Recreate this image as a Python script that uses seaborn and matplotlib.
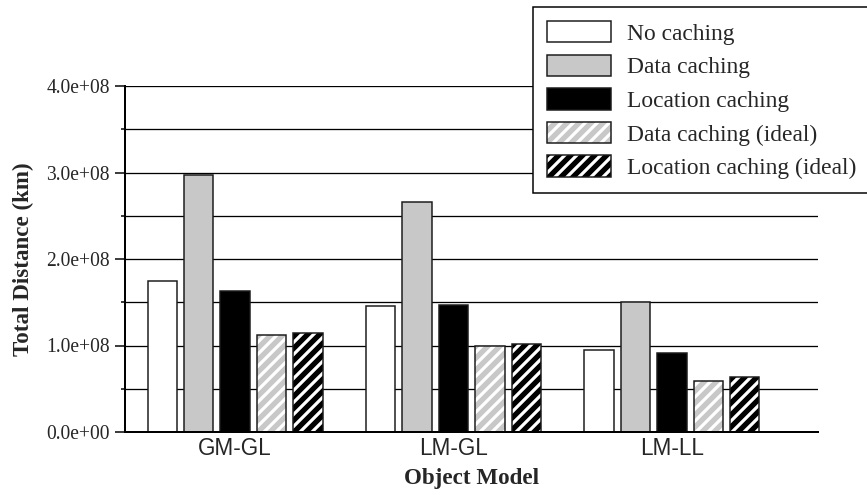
import numpy as np
import pandas as pd
import matplotlib
matplotlib.use('Agg')
import matplotlib.pyplot as plt
from matplotlib.patches import Patch
from matplotlib.ticker import MultipleLocator, FormatStrFormatter
import seaborn as sns

# Values
models = ['GM-GL', 'LM-GL', 'LM-LL']
schemes = ['No caching', 'Data caching', 'Location caching',
           'Data caching (ideal)', 'Location caching (ideal)']
no_caching = [1.74e8, 1.457e8, 0.952e8]
data_caching = [2.97e8, 2.66e8, 1.50e8]
location_caching = [1.635e8, 1.472e8, 0.917e8]
data_ideal = [1.118e8, 0.998e8, 0.59e8]
location_ideal = [1.148e8, 1.013e8, 0.64e8]

colors = ['white', '#c8c8c8', 'black', '#c8c8c8', 'black']
hatched = [False, False, False, True, True]

sns.set_theme(style='ticks')
plt.rcParams['font.family'] = ['Liberation Serif', 'DejaVu Serif']
plt.rcParams['hatch.linewidth'] = 3.2

# Long format for seaborn
series = [no_caching, data_caching, location_caching, data_ideal, location_ideal]
rows = []
for name, vals in zip(schemes, series):
    for m, v in zip(models, vals):
        rows.append({'model': m, 'scheme': name, 'distance': v})
df = pd.DataFrame(rows)

fig = plt.figure(figsize=(867 / 72, 495 / 72), dpi=72)
ax = fig.add_axes([125 / 867, 1 - 432 / 495, 693 / 867, 346 / 495])

sns.barplot(data=df, x='model', y='distance', hue='scheme',
            order=models, hue_order=schemes, palette=colors, saturation=1,
            width=0.833, gap=0.19, edgecolor='#1a1a1a', linewidth=1.5,
            errorbar=None, legend=False, ax=ax)

# White diagonal stripes on the "ideal" bars
for cont, h in zip(ax.containers, hatched):
    if h:
        for p in cont:
            p.set_hatch('//')
            p._hatch_color = (1, 1, 1, 1)

ax.set_xlim(-0.504, 2.669)
ax.set_ylim(0, 4.0e8)
ax.yaxis.set_major_locator(MultipleLocator(1.0e8))
ax.yaxis.set_minor_locator(MultipleLocator(0.5e8))
ax.yaxis.set_major_formatter(FormatStrFormatter('%.1e'))
ax.yaxis.grid(True, which='both', color='black', lw=1.3)
ax.set_axisbelow(True)

sns.despine(ax=ax)
for s in ['left', 'bottom']:
    ax.spines[s].set_linewidth(2)
    ax.spines[s].set_color('black')

ax.tick_params(axis='y', which='major', length=10, width=1.5, labelsize=19.5, pad=5, color='black')
ax.tick_params(axis='y', which='minor', length=4, width=1.5, color='black')
ax.tick_params(axis='x', length=0, labelsize=22.5, pad=5)
for lbl in ax.get_xticklabels():
    lbl.set_fontfamily('Liberation Sans')

ax.set_xlabel('Object Model', fontsize=23, fontweight='bold', labelpad=8)
ax.set_ylabel('Total Distance (km)', fontsize=23, fontweight='bold', labelpad=12)

# Legend
handles = []
for c, h in zip(colors, hatched):
    p = Patch(facecolor=c, edgecolor='#1a1a1a', linewidth=1.5, hatch='//' if h else None)
    if h:
        p._hatch_color = (1, 1, 1, 1)
    handles.append(p)
leg = fig.legend(handles, schemes, loc='upper left',
                 bbox_to_anchor=(533 / 867, 1 - 7 / 495), bbox_transform=fig.transFigure,
                 borderaxespad=0, frameon=True, fancybox=False, framealpha=1,
                 edgecolor='black', fontsize=23.5, handlelength=2.7, handleheight=1.02,
                 handletextpad=0.7, labelspacing=0.42, borderpad=0.6)
leg.get_frame().set_linewidth(1.5)

fig.savefig('out.png', dpi=72)
